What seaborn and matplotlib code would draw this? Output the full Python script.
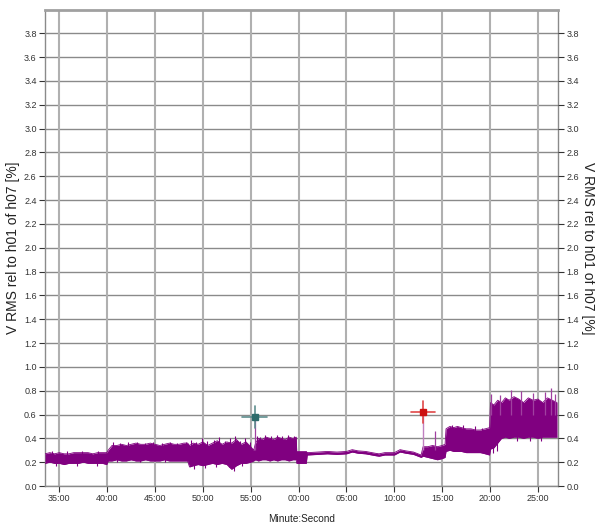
import matplotlib
matplotlib.use("Agg")
import matplotlib.pyplot as plt
from matplotlib import font_manager
import numpy as np
import pandas as pd
import seaborn as sns

# Time axis in minutes; 60 = 00:00 of the following hour
t_env = [33.5, 34.0, 34.5, 35.0, 35.5, 36.0, 36.5, 37.0, 37.5, 38.0, 38.5, 39.0, 39.5, 39.95,
         40.1, 40.5, 41.0, 41.5, 42.0, 42.5, 43.0, 43.5, 44.0, 44.5, 45.0, 45.5, 46.0, 46.5,
         47.0, 47.5, 48.0, 48.4,
         48.6, 49.0, 49.5, 50.0, 50.5, 51.0, 51.5, 52.0, 52.5, 53.0, 53.5, 54.0, 54.5, 55.0, 55.3,
         55.5, 55.8, 56.2, 56.6, 57.0, 57.4, 57.8, 58.2, 58.6, 59.0, 59.4, 59.75,
         59.8, 60.3, 60.8,
         60.9, 62.0, 63.0, 64.0, 65.0, 65.6, 66.2, 67.0, 68.0, 68.4, 69.0, 70.0, 70.6, 71.2, 72.0, 72.8,
         73.0, 73.5, 74.0, 74.5, 75.0, 75.3,
         75.4, 75.8, 76.2, 76.6, 77.0, 77.5, 78.0, 78.5, 79.0, 79.5, 79.95,
         80.05, 80.4, 80.8, 81.2, 81.6, 82.0, 82.5, 83.0, 83.5, 84.0, 84.5, 85.0, 85.5, 86.0, 86.5, 87.0]
hi_env = [0.27, 0.28, 0.27, 0.28, 0.27, 0.27, 0.28, 0.28, 0.28, 0.28, 0.27, 0.28, 0.28, 0.28,
          0.30, 0.34, 0.34, 0.35, 0.34, 0.35, 0.36, 0.35, 0.35, 0.36, 0.35, 0.34, 0.35, 0.36,
          0.35, 0.35, 0.36, 0.36,
          0.34, 0.36, 0.35, 0.37, 0.34, 0.36, 0.38, 0.35, 0.37, 0.36, 0.39, 0.35, 0.37, 0.33, 0.30,
          0.36, 0.40, 0.39, 0.41, 0.40, 0.39, 0.41, 0.40, 0.39, 0.41, 0.40, 0.41,
          0.29, 0.29, 0.29,
          0.28, 0.285, 0.29, 0.285, 0.29, 0.305, 0.295, 0.29, 0.275, 0.27, 0.28, 0.28, 0.305, 0.295, 0.285, 0.26,
          0.33, 0.33, 0.34, 0.33, 0.34, 0.35,
          0.48, 0.50, 0.49, 0.50, 0.49, 0.48, 0.48, 0.47, 0.47, 0.48, 0.49,
          0.70, 0.68, 0.72, 0.70, 0.74, 0.72, 0.75, 0.73, 0.70, 0.74, 0.72, 0.73, 0.70, 0.74, 0.72, 0.70]
lo_env = [0.19, 0.20, 0.19, 0.19, 0.18, 0.19, 0.19, 0.19, 0.20, 0.19, 0.19, 0.19, 0.19, 0.18,
          0.21, 0.21, 0.22, 0.21, 0.21, 0.22, 0.21, 0.21, 0.22, 0.21, 0.21, 0.21, 0.22, 0.21,
          0.21, 0.21, 0.21, 0.21,
          0.16, 0.17, 0.18, 0.17, 0.18, 0.19, 0.18, 0.19, 0.18, 0.14, 0.17, 0.19, 0.19, 0.20, 0.21,
          0.22, 0.21, 0.22, 0.22, 0.21, 0.22, 0.21, 0.22, 0.22, 0.21, 0.22, 0.22,
          0.19, 0.19, 0.19,
          0.26, 0.265, 0.27, 0.265, 0.27, 0.285, 0.275, 0.27, 0.255, 0.25, 0.26, 0.26, 0.285, 0.275, 0.265, 0.24,
          0.25, 0.24, 0.23, 0.22, 0.23, 0.24,
          0.29, 0.30, 0.29, 0.29, 0.29, 0.28, 0.28, 0.28, 0.28, 0.27, 0.26,
          0.31, 0.32, 0.36, 0.40, 0.41, 0.40, 0.41, 0.41, 0.40, 0.41, 0.41, 0.40, 0.41, 0.41, 0.41, 0.41]

# Short excursions above the band (time, peak)
up_t = [34.2, 35.8, 37.4, 39.0, 40.6, 41.3, 42.2, 43.1, 44.0, 44.8, 45.7, 46.6, 47.3, 48.2,
        48.8, 49.3, 49.9, 50.4, 51.2, 51.7, 52.3, 52.8, 53.4, 53.9, 54.4, 54.9,
        55.7, 56.0, 56.5, 57.1, 57.7, 58.3, 58.9, 59.5,
        76.0, 77.2, 78.4, 79.2]
up_v = [0.29, 0.29, 0.29, 0.29, 0.37, 0.36, 0.37, 0.37, 0.36, 0.37, 0.36, 0.37, 0.36, 0.37,
        0.39, 0.37, 0.40, 0.38, 0.39, 0.41, 0.38, 0.40, 0.42, 0.38, 0.40, 0.37,
        0.42, 0.41, 0.43, 0.42, 0.43, 0.42, 0.43, 0.42,
        0.51, 0.51, 0.50, 0.49]
# Short excursions below the band (time, trough)
down_t = [34.6, 36.8, 38.9, 41.0, 43.4, 46.0, 49.1, 50.2, 51.4, 52.7, 53.2, 54.1,
          80.3, 80.7, 82.8, 84.2, 85.3]
down_v = [0.17, 0.17, 0.17, 0.20, 0.20, 0.20, 0.14, 0.15, 0.16, 0.16, 0.13, 0.17,
          0.28, 0.29, 0.38, 0.38, 0.38]

# Isolated peaks rising well above the band
spike_t = [55.4, 74.2, 80.1, 81.0, 82.2, 83.2, 84.5, 85.7, 86.4, 86.8]
spike_top = [0.55, 0.46, 0.77, 0.76, 0.81, 0.80, 0.78, 0.79, 0.82, 0.77]
spike_base = [0.30, 0.30, 0.60, 0.60, 0.60, 0.60, 0.60, 0.60, 0.60, 0.60]

# Cursor markers
cursor_t = [55.4, 73.0]
cursor_v = [0.58, 0.62]
cursor_colors = ["#2e6b6b", "#cc1111"]
cursor_line_colors = ["#5f8f8f", "#e04848"]

tick_pos = [35, 40, 45, 50, 55, 60, 65, 70, 75, 80, 85]
tick_labels = ["35:00", "40:00", "45:00", "50:00", "55:00", "00:00",
               "05:00", "10:00", "15:00", "20:00", "25:00"]
y_ticks = [round(0.2 * i, 1) for i in range(20)]
y_label = "V RMS rel to h01 of h07 [%]"
x_label = "Minute:Second"

sns.set_style("white")
plt.rcParams["font.family"] = ["Liberation Sans", "DejaVu Sans"]

# narrow face for horizontal texts when available
installed = {f.name for f in font_manager.fontManager.ttflist}
if "Liberation Sans Narrow" in installed:
    narrow = ["Liberation Sans Narrow", "Liberation Sans"]
    tick_size, xlab_size = 7.5, 8.5
else:
    narrow = ["Liberation Sans", "DejaVu Sans"]
    tick_size, xlab_size = 6.5, 7.2

fig = plt.figure(figsize=(5.95, 5.25), dpi=100)
ax = fig.add_axes([45 / 595, 39 / 525, 513 / 595, 476.5 / 525])

purple = "#800080"
df = pd.DataFrame({"t": t_env, "hi": hi_env, "lo": lo_env})
ax.fill_between(df["t"], df["lo"], df["hi"], color=purple, lw=0, zorder=3)
sns.lineplot(data=df, x="t", y="hi", ax=ax, color=purple, lw=0.6, zorder=3)
sns.lineplot(data=df, x="t", y="lo", ax=ax, color=purple, lw=0.6, zorder=3)

env_hi = np.interp(up_t, t_env, hi_env)
env_lo = np.interp(down_t, t_env, lo_env)
ax.vlines(up_t, env_hi - 0.02, up_v, color=purple, lw=0.8, zorder=3)
ax.vlines(down_t, down_v, env_lo + 0.02, color=purple, lw=0.8, zorder=3)
ax.vlines(spike_t, spike_base, spike_top, color="#a040a0", lw=0.9, zorder=3)
# thin trace up to the red cursor
ax.vlines([73.0], [0.30], [0.60], color="#c080c0", lw=1.0, zorder=3)

for t, v, c, lc in zip(cursor_t, cursor_v, cursor_colors, cursor_line_colors):
    ax.plot([t - 1.3, t + 1.3], [v, v], color=lc, lw=1.2, zorder=4)
    ax.plot([t, t], [v - 0.09, v + 0.09], color=lc, lw=1.2, zorder=4)
    ax.plot([t], [v], marker="s", ms=5, color=c, mec=c, zorder=5)

ax.set_xlim(33.5, 87.1)
ax.set_ylim(0, 4.0)
ax.set_xticks(tick_pos)
ax.set_xticklabels(tick_labels, family=narrow)
ax.set_yticks(y_ticks)
ax.set_yticklabels([f"{v:.1f}" for v in y_ticks], family=narrow)
ax.set_xlabel(x_label, fontsize=xlab_size, color="#222222", family=narrow)
ax.xaxis.set_label_coords(0.5, -0.058)
ax.set_ylabel(y_label, fontsize=10, color="#222222")
ax.yaxis.set_label_coords(-0.049, 0.5)

for y in y_ticks:
    ax.axhline(y, color="#8a8a8a", lw=1.0, zorder=1)
for x in tick_pos:
    ax.axvline(x, color="#b0b0b0", lw=1.5, zorder=1)

ax.tick_params(axis="both", labelsize=tick_size, colors="#333333", length=4, width=0.8,
               direction="out", pad=2)
ax.tick_params(axis="y", left=True)
ax.tick_params(axis="x", bottom=True)
for side in ["left", "right", "bottom"]:
    ax.spines[side].set_color("#8a8a8a")
    ax.spines[side].set_linewidth(1.0)
ax.spines["top"].set_color("#a0a0a0")
ax.spines["top"].set_linewidth(2.0)

ax2 = ax.twinx()
ax2.set_ylim(0, 4.0)
ax2.set_yticks(y_ticks)
ax2.set_yticklabels([f"{v:.1f}" for v in y_ticks], family=narrow)
ax2.tick_params(axis="y", labelsize=tick_size, colors="#333333", length=4, width=0.8,
                direction="out", pad=2, right=True)
ax2.set_ylabel(y_label, fontsize=10, color="#222222", rotation=270, va="bottom")
ax2.yaxis.set_label_coords(1.044, 0.5)
for s in ax2.spines.values():
    s.set_visible(False)

fig.savefig("out.png", dpi=100)
